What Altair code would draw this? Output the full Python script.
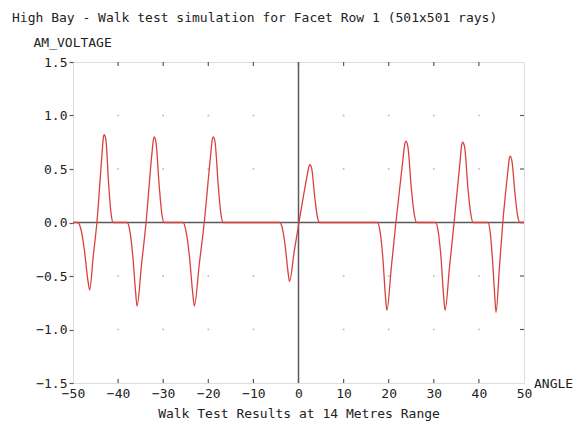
import altair as alt
import pandas as pd

# ---- data ----
start = [(-50.0, 0.0)]
lobe1 = [(-49.0, 0.0), (-48.2, -0.07), (-47.5, -0.25), (-46.7, -0.54), (-46.3, -0.63),
         (-45.5, -0.31), (-44.7, 0.0), (-43.6, 0.62), (-43.25, 0.80), (-43.1, 0.82),
         (-42.7, 0.77), (-42.1, 0.36), (-41.55, 0.08), (-41.1, 0.0)]
lobe2 = [(-38.0, 0.0), (-37.35, -0.09), (-36.75, -0.31), (-36.1, -0.66), (-35.8, -0.78),
         (-34.8, -0.39), (-33.8, 0.0), (-32.6, 0.60), (-32.15, 0.78), (-32.0, 0.80),
         (-31.6, 0.75), (-30.9, 0.35), (-30.3, 0.08), (-29.8, 0.0)]
lobe3 = [(-25.6, 0.0), (-24.9, -0.09), (-24.2, -0.31), (-23.45, -0.66), (-23.1, -0.78),
         (-22.0, -0.39), (-20.9, 0.0), (-19.55, 0.60), (-19.1, 0.78), (-18.9, 0.80),
         (-18.5, 0.75), (-17.8, 0.35), (-17.2, 0.08), (-16.7, 0.0)]
lobe4 = [(-4.2, 0.0), (-3.55, -0.06), (-2.95, -0.22), (-2.3, -0.47), (-2.0, -0.55),
         (-0.95, -0.27), (0.1, 0.0), (1.75, 0.40), (2.3, 0.52), (2.5, 0.54),
         (2.9, 0.51), (3.6, 0.24), (4.2, 0.05), (4.7, 0.0)]
lobe5 = [(17.5, 0.0), (18.1, -0.09), (18.7, -0.33), (19.3, -0.70), (19.6, -0.82),
         (20.6, -0.41), (21.6, 0.0), (23.1, 0.57), (23.6, 0.74), (23.8, 0.76),
         (24.25, 0.71), (25.0, 0.33), (25.65, 0.08), (26.2, 0.0)]
lobe6 = [(30.4, 0.0), (31.0, -0.09), (31.6, -0.33), (32.2, -0.70), (32.5, -0.82),
         (33.5, -0.41), (34.5, 0.0), (35.8, 0.56), (36.2, 0.73), (36.4, 0.75),
         (36.85, 0.70), (37.55, 0.33), (38.2, 0.08), (38.7, 0.0)]
lobe7 = [(42.0, 0.0), (42.5, -0.09), (43.0, -0.34), (43.55, -0.71), (43.8, -0.84),
         (44.55, -0.42), (45.3, 0.0), (46.4, 0.47), (46.75, 0.60), (46.9, 0.62),
         (47.3, 0.58), (48.0, 0.27), (48.6, 0.06), (49.1, 0.0)]
end = [(50.0, 0.0)]

x_ticks = [-50, -40, -30, -20, -10, 0, 10, 20, 30, 40, 50]
y_ticks = [-1.5, -1.0, -0.5, 0.0, 0.5, 1.0, 1.5]

title_text = "High Bay - Walk test simulation for Facet Row 1 (501x501 rays)"
y_title = "AM_VOLTAGE"
x_title = "Walk Test Results at 14 Metres Range"
x_name = "ANGLE"

# ---- build tables ----
pts = start + lobe1 + lobe2 + lobe3 + lobe4 + lobe5 + lobe6 + lobe7 + end
curve = pd.DataFrame(pts, columns=["angle", "voltage"])
inner_x = [v for v in x_ticks if v not in (-50, 50)]
inner_y = [v for v in y_ticks if v not in (-1.5, 1.5)]
grid = pd.DataFrame([(gx, gy) for gx in inner_x if gx != 0 for gy in inner_y if gy != 0],
                    columns=["gx", "gy"])
xt = pd.DataFrame({"t": inner_x})
yt = pd.DataFrame({"t": inner_y})
zero = pd.DataFrame({"z": [0.0]})

W, H = 451, 321
FONT = "DejaVu Sans Mono"
FRAME = "#5a5a5a"
TXT = "#222222"

xs = alt.Scale(domain=[-50, 50], nice=False, zero=False)
ys = alt.Scale(domain=[-1.5, 1.5], nice=False, zero=False)

x_axis = alt.Axis(values=x_ticks, format="d", grid=False, domain=False, ticks=False,
                  labelPadding=4, labelFont=FONT, labelFontSize=13, labelColor=TXT,
                  title=x_title, titleFont=FONT, titleFontSize=13, titleFontWeight="normal",
                  titleColor=TXT, titleX=W / 2, titleY=34, titleBaseline="alphabetic",
                  titleAlign="center", labelFlush=False)
y_axis = alt.Axis(values=y_ticks, format=".1f", grid=False, domain=False, ticks=True,
                  tickSize=4, tickColor=FRAME, tickWidth=1.2, labelPadding=2,
                  labelFont=FONT, labelFontSize=13, labelColor=TXT,
                  title=y_title, titleFont=FONT, titleFontSize=13, titleFontWeight="normal",
                  titleColor=TXT, titleAngle=0, titleX=-40, titleY=-20,
                  titleAlign="left", titleBaseline="middle")

line = alt.Chart(curve).mark_line(color="#d9413f", strokeWidth=1.3, interpolate="monotone").encode(
    x=alt.X("angle:Q", scale=xs, axis=x_axis),
    y=alt.Y("voltage:Q", scale=ys, axis=y_axis),
)

dots = alt.Chart(grid).mark_square(size=3, color="#bdbdbd", opacity=1).encode(
    x=alt.X("gx:Q", scale=xs), y=alt.Y("gy:Q", scale=ys))

zx = alt.Chart(zero).mark_rule(color=FRAME, strokeWidth=1.5).encode(x=alt.X("z:Q", scale=xs))
zy = alt.Chart(zero).mark_rule(color=FRAME, strokeWidth=1.5).encode(y=alt.Y("z:Q", scale=ys))

top_ticks = alt.Chart(xt).mark_rule(color=FRAME, strokeWidth=1.2).encode(
    x=alt.X("t:Q", scale=xs), y=alt.value(0), y2=alt.value(4))
bot_ticks = alt.Chart(xt).mark_rule(color=FRAME, strokeWidth=1.2).encode(
    x=alt.X("t:Q", scale=xs), y=alt.value(H), y2=alt.value(H - 4))
right_ticks = alt.Chart(yt).mark_rule(color=FRAME, strokeWidth=1.2).encode(
    y=alt.Y("t:Q", scale=ys), x=alt.value(W - 4), x2=alt.value(W))

angle_lbl = alt.Chart(pd.DataFrame({"s": [x_name]})).mark_text(
    align="left", baseline="middle", font=FONT, fontSize=13, color=TXT).encode(
    text="s:N", x=alt.value(461), y=alt.value(322))

chart = alt.layer(dots, zy, zx, top_ticks, bot_ticks, right_ticks, line, angle_lbl).properties(
    width=W, height=H,
    title=alt.TitleParams(title_text, anchor="start", frame="group", dx=-61, offset=1,
                          baseline="alphabetic", font=FONT, fontSize=13,
                          fontWeight="normal", color=TXT),
    autosize=alt.AutoSizeParams(type="none"),
    padding={"left": 65, "top": 54, "right": 50, "bottom": 38},
).configure_view(stroke=FRAME, strokeWidth=1.5).configure(background="white")

chart.save("out.html", embed_options={"renderer": "svg", "actions": False})
